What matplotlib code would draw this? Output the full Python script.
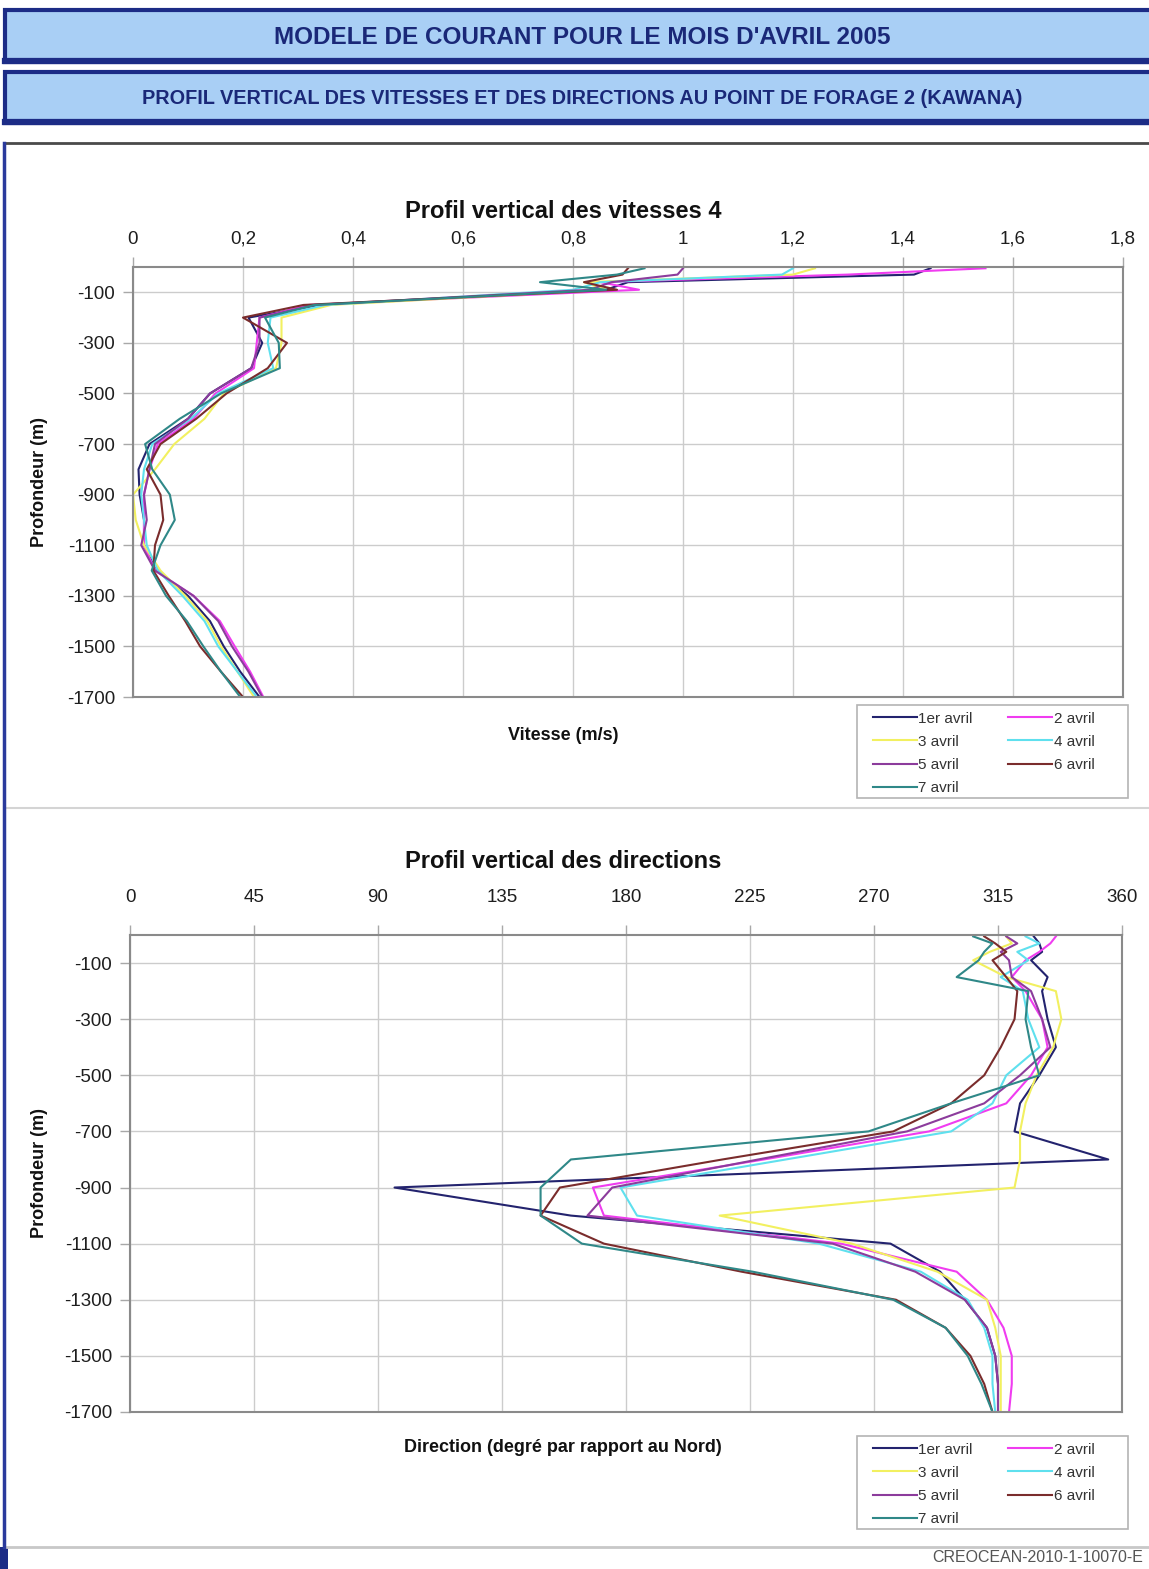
import matplotlib
matplotlib.use("Agg")
import matplotlib.pyplot as plt
from matplotlib.patches import Rectangle
from matplotlib.lines import Line2D

plt.rcParams['font.family'] = ['Liberation Sans', 'DejaVu Sans']

# ---------------- data ----------------
DEPTHS = [-5, -30, -60, -90, -150, -200, -300, -400, -500, -600, -700, -800,
          -900, -1000, -1100, -1200, -1300, -1400, -1500, -1600, -1700]
LABELS = ["1er avril", "2 avril", "3 avril", "4 avril", "5 avril", "6 avril", "7 avril"]
COLORS = ["#23236e", "#f03cf0", "#f2f060", "#5fe0ee", "#8c3c9c", "#7a2c2c", "#2f8888"]

SPEED_1 = [1.45, 1.42, 0.90, 0.86, 0.34, 0.21, 0.235, 0.215, 0.14, 0.10, 0.03, 0.01, 0.012, 0.02, 0.02, 0.045, 0.10, 0.14, 0.165, 0.195, 0.23]
SPEED_2 = [1.55, 1.30, 0.85, 0.92, 0.32, 0.23, 0.225, 0.22, 0.15, 0.11, 0.045, 0.03, 0.02, 0.02, 0.02, 0.04, 0.11, 0.158, 0.185, 0.213, 0.237]
SPEED_3 = [1.24, 1.20, 0.82, 0.86, 0.36, 0.27, 0.27, 0.26, 0.165, 0.13, 0.075, 0.04, 0.0, 0.005, 0.02, 0.05, 0.095, 0.135, 0.16, 0.19, 0.22]
SPEED_4 = [1.20, 1.18, 0.85, 0.80, 0.35, 0.25, 0.245, 0.255, 0.155, 0.105, 0.035, 0.02, 0.015, 0.02, 0.025, 0.045, 0.09, 0.13, 0.155, 0.19, 0.225]
SPEED_5 = [1.00, 0.99, 0.87, 0.83, 0.33, 0.23, 0.23, 0.215, 0.14, 0.10, 0.04, 0.03, 0.02, 0.025, 0.015, 0.04, 0.11, 0.155, 0.18, 0.21, 0.235]
SPEED_6 = [0.90, 0.89, 0.82, 0.88, 0.31, 0.20, 0.28, 0.245, 0.17, 0.115, 0.05, 0.025, 0.05, 0.055, 0.04, 0.037, 0.065, 0.095, 0.122, 0.16, 0.20]
SPEED_7 = [0.93, 0.88, 0.74, 0.86, 0.33, 0.24, 0.265, 0.267, 0.16, 0.085, 0.022, 0.035, 0.067, 0.076, 0.05, 0.034, 0.06, 0.098, 0.128, 0.16, 0.195]

DIR_1 = [328, 330, 331, 327, 333, 331, 333, 336, 330, 323, 321, 355, 96, 160, 276, 294, 303, 311, 314, 315, 315]
DIR_2 = [336, 334, 330, 325, 320, 325, 331, 333, 327, 318, 290, 230, 168, 172, 258, 300, 311, 317, 320, 320, 319]
DIR_3 = [318, 320, 312, 306, 318, 336, 338, 335, 329, 325, 323, 323, 321, 214, 262, 293, 311, 314, 316, 316, 316]
DIR_4 = [325, 330, 322, 326, 316, 324, 326, 330, 318, 313, 298, 238, 178, 184, 250, 287, 304, 310, 313, 313, 314]
DIR_5 = [318, 322, 316, 319, 320, 327, 331, 334, 323, 310, 282, 228, 175, 166, 255, 285, 303, 311, 314, 315, 315]
DIR_6 = [310, 314, 318, 313, 318, 322, 321, 316, 310, 298, 277, 215, 156, 149, 172, 222, 278, 296, 305, 310, 313]
DIR_7 = [306, 313, 310, 308, 300, 326, 325, 327, 330, 298, 268, 160, 149, 149, 164, 226, 277, 296, 304, 309, 313]

SPEEDS = [SPEED_1, SPEED_2, SPEED_3, SPEED_4, SPEED_5, SPEED_6, SPEED_7]
DIRS = [DIR_1, DIR_2, DIR_3, DIR_4, DIR_5, DIR_6, DIR_7]

SPEED_TICKS = [0, 0.2, 0.4, 0.6, 0.8, 1.0, 1.2, 1.4, 1.6, 1.8]
SPEED_TICK_LABELS = ["0", "0,2", "0,4", "0,6", "0,8", "1", "1,2", "1,4", "1,6", "1,8"]
DIR_TICKS = [0, 45, 90, 135, 180, 225, 270, 315, 360]
DIR_TICK_LABELS = ["0", "45", "90", "135", "180", "225", "270", "315", "360"]
DEPTH_TICKS = [-100, -300, -500, -700, -900, -1100, -1300, -1500, -1700]
DEPTH_TICK_LABELS = ["-100", "-300", "-500", "-700", "-900", "-1100", "-1300", "-1500", "-1700"]

BANNER_1 = "MODELE DE COURANT POUR LE MOIS D'AVRIL 2005"
BANNER_2 = "PROFIL VERTICAL DES VITESSES ET DES DIRECTIONS AU POINT DE FORAGE 2 (KAWANA)"
TITLE_1 = "Profil vertical des vitesses 4"
TITLE_2 = "Profil vertical des directions"
XLABEL_1 = "Vitesse (m/s)"
XLABEL_2 = "Direction (degré par rapport au Nord)"
YLABEL = "Profondeur (m)"
FOOTER = "CREOCEAN-2010-1-10070-E"

# ---------------- layout ----------------
W, H = 1149, 1569
fig = plt.figure(figsize=(W / 100, H / 100), dpi=100)
fig.patch.set_facecolor("white")


def fx(px):
    return px / W


def fy(py):
    return 1 - py / H


NAVY = "#1c2c86"
BANNER_FILL = "#a9cff5"

# banners
for (top, bot, txt, size) in [(10, 62, BANNER_1, 17.5), (72, 123, BANNER_2, 14.3)]:
    fig.patches.append(Rectangle((fx(5), fy(bot)), 1.2, fy(top) - fy(bot),
                                 transform=fig.transFigure, facecolor=BANNER_FILL,
                                 edgecolor=NAVY, lw=3, clip_on=False))
    fig.lines.append(Line2D([fx(5), 1], [fy(bot - 1), fy(bot - 1)], transform=fig.transFigure,
                            color=NAVY, lw=4.5))
    fig.text(fx(582), fy((top + bot) / 2 + 1), txt, ha="center", va="center",
             fontsize=size, fontweight="bold", color="#1a2878")

# outer panel borders
fig.lines.append(Line2D([fx(4), 1], [fy(143), fy(143)], transform=fig.transFigure, color="#4a4a4a", lw=2))
fig.lines.append(Line2D([fx(4), 1], [fy(808), fy(808)], transform=fig.transFigure, color="#d4d4d4", lw=1.5))
fig.lines.append(Line2D([fx(4), 1], [fy(1547), fy(1547)], transform=fig.transFigure, color="#c8c8c8", lw=2))
fig.lines.append(Line2D([fx(4), fx(4)], [fy(143), fy(1547)], transform=fig.transFigure, color="#2a3a9c", lw=2.5))
fig.patches.append(Rectangle((0, 0), fx(8), fy(1547), transform=fig.transFigure,
                             facecolor=NAVY, edgecolor="none"))
fig.text(fx(932), fy(1558), FOOTER, ha="left", va="center", fontsize=11.5, color="#555555")


def style_axes(ax, ticks, tick_labels, xmax, pad):
    ax.set_xlim(0, xmax)
    ax.set_ylim(-1700, 0)
    ax.xaxis.tick_top()
    ax.set_xticks(ticks)
    ax.set_xticklabels(tick_labels)
    ax.set_yticks(DEPTH_TICKS)
    ax.set_yticklabels(DEPTH_TICK_LABELS)
    ax.grid(True, color="#cccccc", lw=1.0)
    ax.set_axisbelow(True)
    for s in ax.spines.values():
        s.set_color("#8a8a8a")
        s.set_linewidth(1.5)
    ax.tick_params(axis="both", direction="out", length=7, width=1, color="#a8a8a8",
                   labelsize=13.5, labelcolor="#1e1e1e")
    ax.tick_params(axis="x", pad=pad)
    ax.tick_params(axis="y", pad=6)


def add_legend(handles, top, bottom):
    fig.patches.append(Rectangle((fx(857), fy(bottom)), fx(1128) - fx(857), fy(top) - fy(bottom),
                                 transform=fig.transFigure, facecolor="white",
                                 edgecolor="#b4b4b4", lw=1.2))
    order = [0, 2, 4, 6, 1, 3, 5]
    leg = fig.legend([handles[i] for i in order], [LABELS[i] for i in order],
                     loc="upper left", bbox_to_anchor=(fx(868), fy(top + 2)),
                     bbox_transform=fig.transFigure, ncol=2, fontsize=11,
                     frameon=False, handlelength=2.9, handletextpad=0.1,
                     labelspacing=0.6, borderpad=0.3, columnspacing=2.3,
                     borderaxespad=0)
    for t in leg.get_texts():
        t.set_color("#333333")


# ---- top chart: speeds ----
ax1 = fig.add_axes([fx(133), fy(697), fx(1123) - fx(133), fy(267) - fy(697)])
style_axes(ax1, SPEED_TICKS, SPEED_TICK_LABELS, 1.8, 7)
h1 = []
for vals, col, lab in zip(SPEEDS, COLORS, LABELS):
    ln, = ax1.plot(vals, DEPTHS, color=col, lw=1.5, label=lab)
    h1.append(ln)
fig.text(fx(563), fy(212), TITLE_1, ha="center", va="center", fontsize=17, fontweight="bold", color="#111111")
fig.text(fx(563), fy(735), XLABEL_1, ha="center", va="center", fontsize=13, fontweight="bold", color="#111111")
fig.text(fx(40), fy(482), YLABEL, ha="center", va="center", rotation=90, fontsize=13,
         fontweight="bold", color="#111111")
add_legend(h1, 705, 798)

# ---- bottom chart: directions ----
ax2 = fig.add_axes([fx(130), fy(1412), fx(1122) - fx(130), fy(935) - fy(1412)])
style_axes(ax2, DIR_TICKS, DIR_TICK_LABELS, 360, 14)
h2 = []
for vals, col, lab in zip(DIRS, COLORS, LABELS):
    ln, = ax2.plot(vals, DEPTHS, color=col, lw=1.5, label=lab)
    h2.append(ln)
fig.text(fx(563), fy(861), TITLE_2, ha="center", va="center", fontsize=17, fontweight="bold", color="#111111")
fig.text(fx(563), fy(1447), XLABEL_2, ha="center", va="center", fontsize=13, fontweight="bold", color="#111111")
fig.text(fx(40), fy(1173), YLABEL, ha="center", va="center", rotation=90, fontsize=13,
         fontweight="bold", color="#111111")
add_legend(h2, 1436, 1529)

fig.savefig("out.png", dpi=100, facecolor="white")
